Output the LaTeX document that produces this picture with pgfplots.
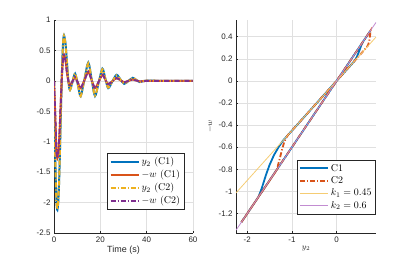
\documentclass[border=0pt]{standalone}
\usepackage{fontspec}
\setsansfont{Liberation Sans}
\usepackage{pgfplots}
\pgfplotsset{compat=1.18}
\definecolor{mblue}{rgb}{0,0.447,0.741}
\definecolor{morange}{rgb}{0.85,0.325,0.098}
\definecolor{myellow}{rgb}{0.929,0.694,0.125}
\definecolor{mpurple}{rgb}{0.494,0.184,0.556}
\definecolor{axgray}{rgb}{0.15,0.15,0.15}
\definecolor{klight1}{rgb}{0.96,0.80,0.45}
\definecolor{klight2}{rgb}{0.76,0.55,0.82}
\pgfplotsset{
  mstyle/.style={
    scale only axis,
    axis x line*=bottom, axis y line*=left,
    axis line style={draw=axgray, line width=0.5pt, -},
    tick align=inside, major tick length=2.5pt,
    tick style={draw=axgray, line width=0.4pt},
    grid=major, grid style={draw=black!12, line width=0.4pt},
    ticklabel style={font=\sffamily\fontsize{8}{9}\selectfont, text=axgray},
    /pgf/number format/assume math mode=true,
    legend cell align=left,
    legend style={draw=axgray, fill=white, line width=0.5pt, font=\fontsize{10}{11}\selectfont, inner sep=2pt, row sep=0pt},
    legend image code/.code={\draw[##1] (0bp,0bp) -- (28bp,0bp);},
  }
}
\begin{document}
\begin{tikzpicture}
\path[use as bounding box] (0,0) rectangle (415bp,262bp);
\begin{axis}[mstyle,
  at={(54bp,29bp)}, anchor=south west, width=139bp, height=213bp,
  xmin=0, xmax=60, ymin=-2.5, ymax=1,
  xtick={0,20,40,60}, ytick={-2.5,-2,-1.5,-1,-0.5,0,0.5,1},
  xlabel={Time (s)}, xlabel style={font=\sffamily\fontsize{9}{10}\selectfont, text=axgray, yshift=3pt},
  legend style={at={(0.937,0.111)}, anchor=south east},
]
\addplot[mblue, line width=2pt, smooth] coordinates {
(0,0) (0.25,-0.6) (0.5,-1.15) (0.75,-1.6) (1.0,-1.92) (1.25,-2.08) (1.45,-2.12)
(1.8,-2.01) (2.15,-1.72) (2.5,-1.27) (2.87,-0.685) (3.25,-0.10) (3.6,0.35) (3.95,0.64) (4.3,0.75)
(4.95,0.62) (5.6,0.3) (6.25,-0.02) (6.9,-0.15) (8.0,-0.015) (9.1,0.12) (10.3,-0.065) (11.5,-0.25)
(13.15,0.025) (14.8,0.3) (16.25,0.025) (17.7,-0.25) (19.3,-0.025) (20.9,0.2) (22.15,0.04) (23.4,-0.12)
(25.2,-0.01) (27,0.1) (28.65,0.025) (30.3,-0.05) (32.15,0) (34,0.05) (35.5,0.015) (37,-0.02)
(39,0) (42,0.004) (45,0) (50,0) (60,0)};
\addlegendentry{$y_2$ (C1)}
\addplot[morange, line width=2pt, smooth] coordinates {
(0,0) (0.25,-0.27) (0.5,-0.52) (0.75,-0.8) (1.0,-1.15) (1.25,-1.25) (1.45,-1.27)
(1.8,-1.21) (2.15,-1.03) (2.5,-0.76) (2.87,-0.41) (3.25,-0.06) (3.6,0.21) (3.95,0.38) (4.3,0.43)
(4.95,0.35) (5.6,0.135) (6.25,-0.01) (6.9,-0.07) (8.0,-0.007) (9.1,0.06) (10.3,-0.03) (11.5,-0.12)
(13.15,0.012) (14.8,0.15) (16.25,0.011) (17.7,-0.12) (19.3,-0.012) (20.9,0.1) (22.15,0.02) (23.4,-0.055)
(25.2,-0.005) (27,0.045) (28.65,0.011) (30.3,-0.022) (32.15,0) (34,0.022) (35.5,0.007) (37,-0.009)
(40,0) (45,0) (60,0)};
\addlegendentry{$-w$ (C1)}
\addplot[myellow, line width=2pt, smooth, dash pattern=on 5pt off 2pt on 1.2pt off 2pt] coordinates {
(0,0) (0.25,-0.6) (0.5,-1.15) (0.75,-1.6) (1.0,-1.92) (1.25,-2.08) (1.45,-2.11)
(1.8,-2.0) (2.15,-1.71) (2.5,-1.26) (2.87,-0.68) (3.25,-0.10) (3.6,0.35) (3.95,0.64) (4.3,0.74)
(4.95,0.61) (5.6,0.3) (6.25,-0.02) (6.9,-0.15) (8.0,-0.015) (9.1,0.12) (10.3,-0.065) (11.5,-0.25)
(13.15,0.025) (14.8,0.29) (16.25,0.025) (17.7,-0.24) (19.3,-0.025) (20.9,0.19) (22.15,0.04) (23.4,-0.11)
(25.2,-0.01) (27,0.09) (28.65,0.02) (30.3,-0.045) (32.15,0) (34,0.045) (35.5,0.015) (37,-0.02)
(39,0) (42,0.004) (45,0) (50,0) (60,0)};
\addlegendentry{$y_2$ (C2)}
\addplot[mpurple, line width=2pt, smooth, dash pattern=on 5pt off 2pt on 1.2pt off 2pt] coordinates {
(0,0) (0.25,-0.27) (0.5,-0.52) (0.75,-0.82) (1.0,-1.15) (1.25,-1.25) (1.45,-1.27)
(1.8,-1.21) (2.15,-1.03) (2.5,-0.76) (2.87,-0.41) (3.25,-0.06) (3.6,0.21) (3.95,0.37) (4.3,0.42)
(4.95,0.34) (5.6,0.135) (6.25,-0.01) (6.9,-0.07) (8.0,-0.007) (9.1,0.06) (10.3,-0.03) (11.5,-0.12)
(13.15,0.012) (14.8,0.15) (16.25,0.011) (17.7,-0.12) (19.3,-0.012) (20.9,0.1) (22.15,0.02) (23.4,-0.055)
(25.2,-0.005) (27,0.045) (28.65,0.011) (30.3,-0.022) (32.15,0) (34,0.022) (35.5,0.007) (37,-0.009)
(40,0) (45,0) (60,0)};
\addlegendentry{$-w$ (C2)}
\end{axis}
\begin{axis}[mstyle,
  at={(236bp,29bp)}, anchor=south west, width=140bp, height=213bp,
  xmin=-2.25, xmax=0.88, ymin=-1.375, ymax=0.55,
  xtick={-2,-1,0}, ytick={-1.2,-1,-0.8,-0.6,-0.4,-0.2,0,0.2,0.4},
  xlabel={$y_2$}, xlabel style={font=\fontsize{8}{9}\selectfont, text=axgray, yshift=3pt},
  ylabel={$-w$}, ylabel style={font=\fontsize{8}{9}\selectfont, text=axgray, yshift=-1pt},
  legend style={at={(0.998,0.089)}, anchor=south east},
]
\addplot[mblue, line width=1.8pt] coordinates {
(0,0) (-0.3,-0.135) (-0.6,-0.27) (-0.9,-0.405) (-1.2,-0.54) (-1.3,-0.6) (-1.4,-0.67) (-1.5,-0.76)
(-1.58,-0.85) (-1.65,-0.94) (-1.7,-1.0) (-1.75,-1.05) (-2.13,-1.278) (-1.0,-0.6) (0,0) (0.75,0.45)
(0.6,0.36) (0.55,0.32) (0.5,0.265) (0.45,0.215) (0.4,0.18) (0,0)};
\addlegendentry{C1}
\addplot[morange, line width=1.8pt, dash pattern=on 5pt off 2pt on 1.2pt off 2pt] coordinates {
(0,0) (-0.5,-0.225) (-1.1,-0.495) (-1.17,-0.55) (-1.22,-0.62) (-1.27,-0.7) (-1.31,-0.76) (-1.33,-0.8)
(-2.13,-1.278) (-1.0,-0.6) (0,0) (0.76,0.456) (0.75,0.42) (0.73,0.36) (0.7,0.32) (0.62,0.28) (0.5,0.225) (0,0)};
\addlegendentry{C2}
\addplot[klight1, line width=0.8pt] coordinates {(-2.25,-1.0125) (0.88,0.396)};
\addlegendentry{$k_1=0.45$}
\addplot[klight2, line width=0.8pt] coordinates {(-2.25,-1.35) (0.88,0.528)};
\addlegendentry{$k_2=0.6$}
\end{axis}
\end{tikzpicture}
\end{document}
